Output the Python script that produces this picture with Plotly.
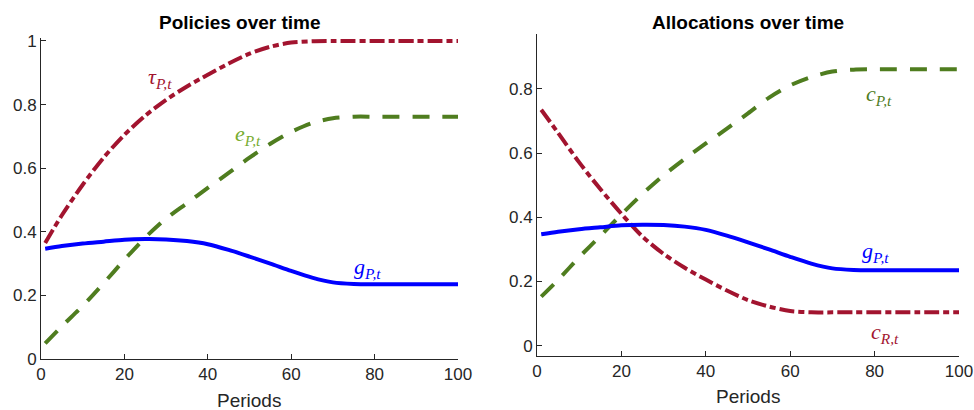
import plotly.graph_objects as go

# ---------------- data ----------------
periods = [1, 5, 10, 15, 20, 25, 30, 35, 40, 45, 50, 55, 60, 65, 70, 75, 80, 85, 90, 95, 100]

tau_P = [0.365, 0.452, 0.548, 0.633, 0.705, 0.765, 0.815, 0.857, 0.894, 0.929, 0.960, 0.982, 0.995,
         0.999, 1.000, 1.000, 1.000, 1.000, 1.000, 1.000, 1.000]
e_P = [0.049, 0.103, 0.167, 0.238, 0.312, 0.382, 0.442, 0.490, 0.538, 0.585, 0.633, 0.677, 0.714,
       0.742, 0.757, 0.762, 0.762, 0.762, 0.762, 0.762, 0.762]
g_P = [0.347, 0.355, 0.363, 0.369, 0.375, 0.377, 0.376, 0.371, 0.361, 0.343, 0.322, 0.300, 0.277,
       0.256, 0.241, 0.236, 0.235, 0.235, 0.235, 0.235, 0.235]
c_P = [0.153, 0.205, 0.276, 0.342, 0.409, 0.473, 0.531, 0.582, 0.630, 0.676, 0.724, 0.773, 0.811,
       0.837, 0.854, 0.860, 0.861, 0.861, 0.861, 0.861, 0.861]
c_R = [0.735, 0.663, 0.571, 0.488, 0.411, 0.340, 0.286, 0.243, 0.206, 0.172, 0.142, 0.122, 0.108,
       0.104, 0.104, 0.104, 0.104, 0.104, 0.104, 0.104, 0.104]

x_ticks = [0, 20, 40, 60, 80, 100]
y_ticks_left = [0, 0.2, 0.4, 0.6, 0.8, 1]
y_ticks_right = [0, 0.2, 0.4, 0.6, 0.8]
y_tick_text_left = ["0", "0.2", "0.4", "0.6", "0.8", "1"]
y_tick_text_right = ["0", "0.2", "0.4", "0.6", "0.8"]

titles = ["Policies over time", "Allocations over time"]
xlabel = "Periods"

# ---------------- styles ----------------
RED = "#A2142F"
GREEN = "#4F7D1F"
GREEN_LIGHT = "#77AC30"
BLUE = "#0000FF"
AX = "#262626"
W = 974
H = 410


def px_x(p):
    return p / W


def px_y(p):
    return 1 - p / H


fig = go.Figure()

dashdot = "15px,4px,6px,4px"
dashed = "17px,13px"

# Left panel
fig.add_trace(go.Scatter(x=periods, y=tau_P, mode="lines", xaxis="x", yaxis="y",
                         line=dict(color=RED, width=4, dash=dashdot, shape="spline", smoothing=0.8)))
fig.add_trace(go.Scatter(x=periods, y=e_P, mode="lines", xaxis="x", yaxis="y",
                         line=dict(color=GREEN, width=4, dash=dashed, shape="spline", smoothing=0.8)))
fig.add_trace(go.Scatter(x=periods, y=g_P, mode="lines", xaxis="x", yaxis="y",
                         line=dict(color=BLUE, width=4, shape="spline", smoothing=0.8)))

# Right panel
fig.add_trace(go.Scatter(x=periods, y=c_R, mode="lines", xaxis="x2", yaxis="y2",
                         line=dict(color=RED, width=4, dash=dashdot, shape="spline", smoothing=0.8)))
fig.add_trace(go.Scatter(x=periods, y=c_P, mode="lines", xaxis="x2", yaxis="y2",
                         line=dict(color=GREEN, width=4, dash=dashed, shape="spline", smoothing=0.8)))
fig.add_trace(go.Scatter(x=periods, y=g_P, mode="lines", xaxis="x2", yaxis="y2",
                         line=dict(color=BLUE, width=4, shape="spline", smoothing=0.8)))

tickfont = dict(family="Liberation Sans, Arial", size=17, color=AX)
axis_common = dict(showline=True, linecolor=AX, linewidth=1, ticks="inside", ticklen=5,
                   tickcolor=AX, showgrid=False, zeroline=False, mirror=False,
                   tickfont=tickfont, fixedrange=True, automargin=False)

# left y axis: leave a hair of room above 1 so the flat line at 1 is not clipped
y_left_top = 1.008
left_bottom_px = 359.0
left_unit_px = 318.0

fig.update_layout(
    width=W, height=H,
    margin=dict(l=0, r=0, t=0, b=0, autoexpand=False),
    paper_bgcolor="white", plot_bgcolor="white",
    showlegend=False,
    hovermode=False,
    xaxis=dict(domain=[px_x(41), px_x(458)], range=[0, 100], tickvals=x_ticks, anchor="y", **axis_common),
    yaxis=dict(domain=[px_y(left_bottom_px), px_y(left_bottom_px - left_unit_px * y_left_top)],
               range=[0, y_left_top], tickvals=y_ticks_left,
               ticktext=y_tick_text_left, anchor="x", **axis_common),
    xaxis2=dict(domain=[px_x(537), px_x(959)], range=[0, 100], tickvals=x_ticks, anchor="y2", **axis_common),
    yaxis2=dict(domain=[px_y(355.7), px_y(34)], range=[-0.031, 0.971], tickvals=y_ticks_right,
                ticktext=y_tick_text_right, anchor="x2", **axis_common),
)

title_font = dict(family="Liberation Sans, Arial", size=19, color="black")
label_font = dict(family="Liberation Sans, Arial", size=19, color=AX)
ann = []
ann.append(dict(text="<b>" + titles[0] + "</b>", x=px_x(240), y=px_y(22), xref="paper", yref="paper",
                showarrow=False, font=title_font, xanchor="center", yanchor="middle"))
ann.append(dict(text="<b>" + titles[1] + "</b>", x=px_x(748), y=px_y(22), xref="paper", yref="paper",
                showarrow=False, font=title_font, xanchor="center", yanchor="middle"))
ann.append(dict(text=xlabel, x=px_x(249.5), y=px_y(400), xref="paper", yref="paper",
                showarrow=False, font=label_font, xanchor="center", yanchor="middle"))
ann.append(dict(text=xlabel, x=px_x(748), y=px_y(396.5), xref="paper", yref="paper",
                showarrow=False, font=label_font, xanchor="center", yanchor="middle"))


def mlabel(sym, sub, x, y, xr, yr, color):
    return dict(text="<i>" + sym + "</i><sub><i>" + sub + "</i></sub>", x=x, y=y, xref=xr, yref=yr,
                showarrow=False, xanchor="center", yanchor="middle",
                font=dict(family="Liberation Serif, Times New Roman, serif", size=22, color=color))


ann.append(mlabel("τ", "P,t", 28.5, 0.884, "x", "y", RED))
ann.append(mlabel("e", "P,t", 49.6, 0.704, "x", "y", GREEN_LIGHT))
ann.append(mlabel("g", "P,t", 78.4, 0.286, "x", "y", BLUE))
ann.append(mlabel("c", "P,t", 81.0, 0.781, "x2", "y2", GREEN))
ann.append(mlabel("g", "P,t", 80.3, 0.292, "x2", "y2", BLUE))
ann.append(mlabel("c", "R,t", 82.5, 0.040, "x2", "y2", RED))

fig.update_layout(annotations=ann)

fig.write_html("out.html")
